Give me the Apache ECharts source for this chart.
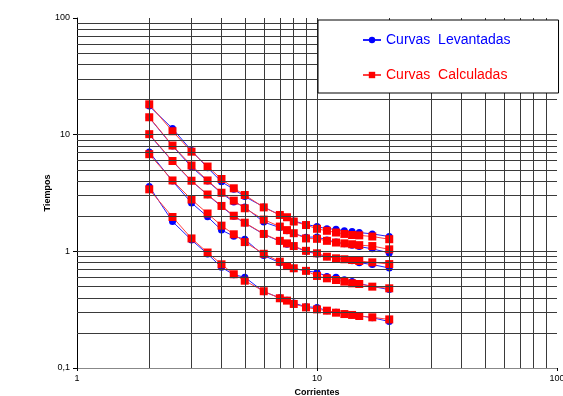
<!DOCTYPE html>
<html>
<head>
<meta charset="utf-8">
<script src="https://cdn.jsdelivr.net/npm/echarts@6/dist/echarts.min.js"></script>
<style>
  html, body { margin: 0; padding: 0; background: #fff; }
  #chart { width: 563px; height: 396px; }
</style>
</head>
<body>
<div id="chart"></div>
<script>
// corriente (multiplo) en el eje x
const corrientes = [2, 2.5, 3, 3.5, 4, 4.5, 5, 6, 7, 7.5, 8, 9, 10, 11, 12, 13, 14, 15, 17, 20];

// curvas levantadas (azul)
const lev1 = [17.6, 11.3, 7.3, 5.2, 3.95, 3.4, 2.95, 2.4, 2.05, 1.95, 1.82, 1.7, 1.63, 1.56, 1.55, 1.5, 1.48, 1.45, 1.41, 1.34];
const lev2 = [14.0, 8.0, 5.3, 4.0, 3.15, 2.65, 2.4, 1.78, 1.6, 1.5, 1.42, 1.32, 1.33, 1.25, 1.2, 1.16, 1.13, 1.1, 1.05, 0.97];
const lev3 = [10.0, 5.9, 4.0, 3.05, 2.42, 2.0, 1.75, 1.4, 1.22, 1.15, 1.1, 1.0, 0.95, 0.9, 0.87, 0.85, 0.83, 0.8, 0.77, 0.72];
const lev4 = [7.1, 4.0, 2.6, 1.98, 1.52, 1.35, 1.27, 0.92, 0.8, 0.74, 0.71, 0.68, 0.66, 0.61, 0.6, 0.57, 0.55, 0.53, 0.5, 0.47];
const lev5 = [3.6, 1.8, 1.25, 0.95, 0.73, 0.63, 0.6, 0.45, 0.4, 0.38, 0.36, 0.335, 0.33, 0.31, 0.3, 0.29, 0.285, 0.28, 0.27, 0.25];

// curvas calculadas (rojo)
const calc1 = [18.2, 10.7, 7.15, 5.33, 4.17, 3.47, 3.04, 2.38, 2.05, 1.96, 1.8, 1.68, 1.56, 1.5, 1.45, 1.41, 1.38, 1.37, 1.34, 1.27];
const calc2 = [14.1, 8.07, 5.44, 4.05, 3.18, 2.72, 2.34, 1.87, 1.63, 1.52, 1.43, 1.29, 1.28, 1.23, 1.19, 1.17, 1.15, 1.13, 1.11, 1.04];
const calc3 = [10.1, 5.95, 4.03, 3.07, 2.45, 2.02, 1.76, 1.41, 1.23, 1.17, 1.11, 1.01, 0.962, 0.9, 0.871, 0.855, 0.843, 0.826, 0.805, 0.778];
const calc4 = [6.8, 4.05, 2.78, 2.11, 1.66, 1.4, 1.2, 0.953, 0.815, 0.748, 0.716, 0.68, 0.615, 0.587, 0.568, 0.55, 0.532, 0.525, 0.498, 0.482];
const calc5 = [3.4, 1.97, 1.29, 0.977, 0.774, 0.636, 0.56, 0.455, 0.396, 0.378, 0.354, 0.331, 0.318, 0.31, 0.298, 0.29, 0.285, 0.279, 0.272, 0.261];

// lineas de la grilla logaritmica
const gridX = [2, 3, 4, 5, 6, 7, 8, 9, 10, 20, 30, 40, 50, 60, 70, 80, 90];
const gridY = [0.2, 0.3, 0.4, 0.5, 0.6, 0.7, 0.8, 0.9, 1, 2, 3, 4, 5, 6, 7, 8, 9, 10, 20, 30, 40, 50, 60, 70, 80, 90];

const LEV = "Curvas  Levantadas";
const CALC = "Curvas  Calculadas";
const FONT = "Liberation Sans, Arial, sans-serif";

function pairs(ys) {
  return corrientes.map((x, i) => [x, ys[i]]);
}

const chart = echarts.init(document.getElementById("chart"), null, { renderer: "canvas" });

const series = [
  {
    type: "line",
    data: [],
    silent: true,
    z: 1,
    markLine: {
      silent: true,
      animation: false,
      symbol: ["none", "none"],
      label: { show: false },
      lineStyle: { type: "solid", color: "#3a3a3a", width: 1 },
      data: gridX.map((v) => ({ xAxis: v })).concat(gridY.map((v) => ({ yAxis: v })))
    }
  }
];

[lev1, lev2, lev3, lev4, lev5].forEach((ys) => {
  series.push({
    name: LEV,
    type: "line",
    z: 2,
    data: pairs(ys),
    symbol: "circle",
    symbolSize: 7,
    color: "#0000ff",
    itemStyle: { color: "#0000ff" },
    lineStyle: { color: "#2020ff", width: 1 }
  });
});

[calc1, calc2, calc3, calc4, calc5].forEach((ys) => {
  series.push({
    name: CALC,
    type: "line",
    z: 3,
    data: pairs(ys),
    symbol: "rect",
    symbolSize: 8,
    color: "#ff0000",
    itemStyle: { color: "#ff0000" },
    lineStyle: { color: "#ff4040", width: 1 }
  });
});

chart.setOption({
  animation: false,
  backgroundColor: "#ffffff",
  textStyle: { fontFamily: FONT },
  grid: { left: 77, right: 6, top: 18, bottom: 28, containLabel: false, outerBoundsMode: "none" },
  legend: {
    z: 10,
    left: 318,
    top: 20,
    orient: "vertical",
    data: [
      { name: LEV, textStyle: { color: "#0000ff" } },
      { name: CALC, textStyle: { color: "#ff0000" } }
    ],
    itemWidth: 18,
    itemHeight: 8,
    itemGap: 21,
    padding: [13, 48, 11, 44],
    backgroundColor: "#ffffff",
    borderColor: "#000000",
    borderWidth: 1,
    borderRadius: 0,
    textStyle: { fontSize: 14, fontFamily: FONT }
  },
  xAxis: {
    type: "log",
    logBase: 10,
    min: 1,
    max: 100,
    name: "Corrientes",
    nameLocation: "middle",
    nameGap: 20,
    nameMoveOverlap: false,
    nameTextStyle: { fontSize: 9, fontWeight: "bold", color: "#000" },
    axisLine: { show: true, onZero: false, lineStyle: { color: "#888", width: 1 } },
    axisTick: { show: true, length: 3, lineStyle: { color: "#000" } },
    axisLabel: { fontSize: 9, color: "#000", margin: 6 },
    splitLine: { show: false }
  },
  yAxis: {
    type: "log",
    logBase: 10,
    min: 0.1,
    max: 100,
    name: "Tiempos",
    nameLocation: "middle",
    nameGap: 25,
    nameMoveOverlap: false,
    nameTextStyle: { fontSize: 9, fontWeight: "bold", color: "#000" },
    axisLine: { show: true, onZero: false, lineStyle: { color: "#000", width: 1 } },
    axisTick: { show: true, length: 4, lineStyle: { color: "#000" } },
    axisLabel: {
      fontSize: 9,
      color: "#000",
      margin: 7,
      formatter: (v) => String(v).replace(".", ",")
    },
    splitLine: { show: false }
  },
  series: series
});
</script>
</body>
</html>
